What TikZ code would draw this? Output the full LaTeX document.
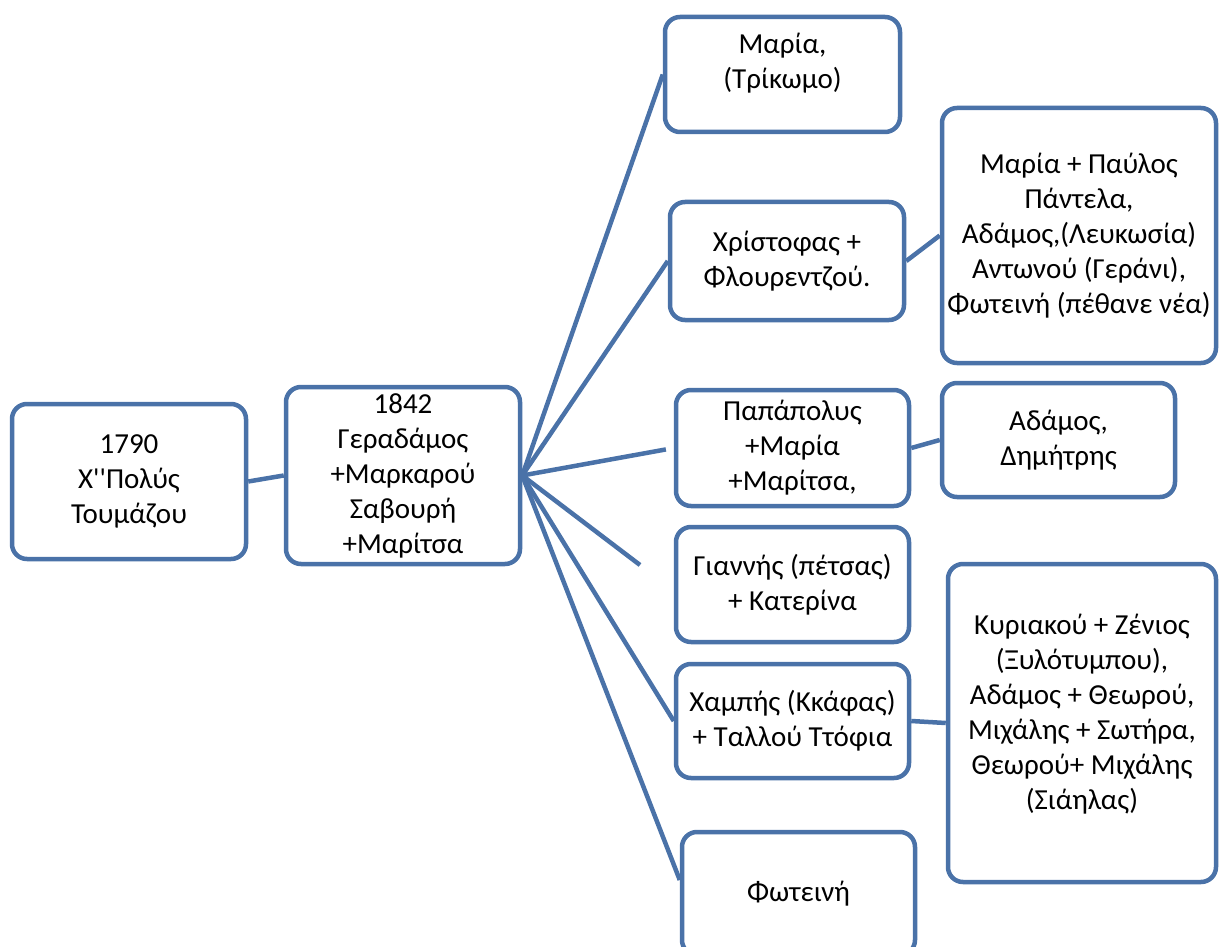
\documentclass[tikz,border=0pt]{standalone}
\usepackage{fontspec}
\setmainfont{Carlito}
\usepackage{tikz}
\usetikzlibrary{positioning}
\definecolor{boxColor}{RGB}{74,114,168}

\begin{document}
\begin{tikzpicture}[x=1pt,y=-1pt]

            \tikzstyle{familyNode} = [draw=boxColor, line width=4.5pt, rounded corners=15pt, align=center,
                                      font=\fontsize{29}{35}\selectfont, inner sep=0pt];
            \tikzstyle{familyEdge} = [draw=boxColor, line width=4.5pt];

            \clip (0,0) rectangle (1219,947);

            \node[familyNode, minimum width=234, minimum height=155] (polys) at (129,481.5) {1790\\Χ\textquotesingle\textquotesingle Πολύς\\Τουμάζου};
            \node[familyNode, minimum width=234, minimum height=177] (geradamos) at (403,475.5) {1842\\Γεραδάμος\\+Μαρκαρού\\Σαβουρή\\+Μαρίτσα};

            \node[familyNode, minimum width=235, minimum height=115] (maria) at (782.5,74.5) {Μαρία,\\(Τρίκωμο)\\[-8pt]\mbox{}};
            \node[familyNode, minimum width=234, minimum height=118] (christofas) at (787,261) {Χρίστοφας +\\Φλουρεντζού.};
            \node[familyNode, minimum width=233, minimum height=116] (papapolys) at (792.5,448) {Παπάπολυς\\+Μαρία\\+Μαρίτσα,};
            \node[familyNode, minimum width=233, minimum height=115] (giannis) at (792.5,584.5) {Γιαννής (πέτσας)\\+ Κατερίνα};
            \node[familyNode, minimum width=233, minimum height=114] (chambis) at (792.5,721) {Χαμπής (Κκάφας)\\+ Ταλλού Ττόφια};
            \node[familyNode, minimum width=233, minimum height=123] (foteini) at (798.5,893.5) {Φωτεινή};

            \node[familyNode, minimum width=274, minimum height=255] (christKids) at (1079,235.5) {Μαρία + Παύλος\\Πάντελα,\\Αδάμος,(Λευκωσία)\\Αντωνού (Γεράνι),\\Φωτεινή (πέθανε νέα)};
            \node[familyNode, minimum width=233, minimum height=114] (papaKids) at (1058.5,440) {Αδάμος,\\Δημήτρης};
            \node[familyNode, minimum width=268, minimum height=318] (chambisKids) at (1082,723) {Κυριακού + Ζένιος\\(Ξυλότυμπου),\\Αδάμος + Θεωρού,\\Μιχάλης + Σωτήρα,\\Θεωρού+ Μιχάλης\\(Σιάηλας)\\[-13pt]\mbox{}};

            \coordinate (giannisEnd) at (640,565);

            \draw[familyEdge] (polys.east) -- (geradamos.west);
            \draw[familyEdge] (geradamos.east) -- (maria.west);
            \draw[familyEdge] (geradamos.east) -- (christofas.west);
            \draw[familyEdge, shorten >=8pt] (geradamos.east) -- (papapolys.west);
            \draw[familyEdge] (geradamos.east) -- (giannisEnd);
            \draw[familyEdge] (geradamos.east) -- (chambis.west);
            \draw[familyEdge] (geradamos.east) -- (foteini.west |- 0,880);

            \draw[familyEdge] (christofas.east) -- (christKids.west);
            \draw[familyEdge] (papapolys.east) -- (papaKids.west);
            \draw[familyEdge] (chambis.east) -- (chambisKids.west);
\end{tikzpicture}
\end{document}
